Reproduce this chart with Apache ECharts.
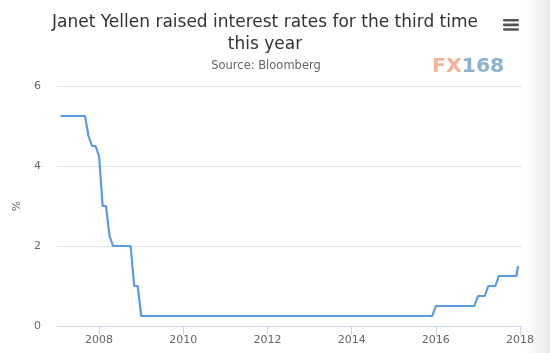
<!DOCTYPE html>
<html>
<head>
<meta charset="utf-8">
<script src="https://cdn.jsdelivr.net/npm/echarts@6/dist/echarts.min.js"></script>
<style>
  html, body { margin: 0; padding: 0; background: #fff; }
  #chart { width: 550px; height: 353px; }
</style>
</head>
<body>
<div id="chart"></div>
<script>
// fed funds target (upper bound), points where the line bends
var dates = [
    '2007-02-01', '2007-09-01', '2007-10-01', '2007-11-01', '2007-12-01',
    '2008-01-01', '2008-02-01', '2008-03-01', '2008-04-01', '2008-05-01',
    '2008-10-01', '2008-11-01', '2008-12-01', '2009-01-01', '2015-12-01',
    '2016-01-01', '2016-12-01', '2017-01-01', '2017-03-01', '2017-04-01',
    '2017-06-01', '2017-07-01', '2017-12-01', '2017-12-14'
];
var rates = [
    5.25, 5.25, 4.75, 4.5, 4.5,
    4.25, 3.0, 3.0, 2.25, 2.0,
    2.0, 1.0, 1.0, 0.25, 0.25,
    0.5, 0.5, 0.75, 0.75, 1.0,
    1.0, 1.25, 1.25, 1.5
];
var tickYears = [2008, 2010, 2012, 2014, 2016, 2018];
var yTicks = [0, 2, 4, 6];

var titleText = 'Janet Yellen raised interest rates for the third time\nthis year';
var subText = 'Source: Bloomberg';

(function () {
    var chart = echarts.init(document.getElementById('chart'), null, {renderer: 'canvas'});
    var font = '"DejaVu Sans", "Lucida Grande", sans-serif';

    function ts(s) { return Date.parse(s); }

    var yearStamps = tickYears.map(function (y) { return ts(y + '-01-01'); });
    var points = dates.map(function (d, i) { return [ts(d), rates[i]]; });

    var option = {
        animation: false,
        title: [{
            text: titleText,
            left: 265, top: 12, padding: 0,
            textAlign: 'center',
            textStyle: {color: '#333333', fontFamily: font, fontSize: 17, fontWeight: 'normal', lineHeight: 22}
        }, {
            text: subText,
            left: 266, top: 60, padding: 0,
            textAlign: 'center',
            textStyle: {color: '#666666', fontFamily: font, fontSize: 11.5, fontWeight: 'normal'}
        }],
        grid: {left: 57, right: 28, top: 86, bottom: 27, containLabel: false},
        xAxis: {
            type: 'value',
            min: ts('2007-01-01'),
            max: ts('2018-01-18'),
            axisLine: {show: true, onZero: false, lineStyle: {color: '#ccd6eb', width: 1}},
            axisTick: {show: true, length: 9, customValues: yearStamps, lineStyle: {color: '#ccd6eb'}},
            axisLabel: {
                customValues: yearStamps,
                color: '#666666', fontFamily: font, fontSize: 11, margin: 9,
                formatter: function (v) { return String(new Date(v).getUTCFullYear()); }
            },
            splitLine: {show: false}
        },
        yAxis: {
            type: 'value',
            min: yTicks[0], max: yTicks[yTicks.length - 1], interval: 2,
            name: '%',
            nameLocation: 'middle',
            nameRotate: 90,
            nameGap: 26,
            nameTextStyle: {color: '#666666', fontFamily: font, fontSize: 11},
            axisLine: {show: false},
            axisTick: {show: false},
            axisLabel: {color: '#666666', fontFamily: font, fontSize: 11, margin: 16},
            splitLine: {lineStyle: {color: '#e6e6e6', width: 1}}
        },
        series: [{
            type: 'line',
            data: points,
            showSymbol: false,
            lineStyle: {color: '#5a9be6', width: 2.2},
            itemStyle: {color: '#5a9be6'}
        }],
        graphic: [
            // grey strip on the right edge
            {
                type: 'rect', left: 526, top: 0, z: -1,
                shape: {width: 24, height: 353},
                style: {fill: new echarts.graphic.LinearGradient(0, 0, 1, 0, [
                    {offset: 0, color: '#ffffff'}, {offset: 1, color: '#e9e9e9'}
                ])}
            },
            // menu button
            {type: 'rect', left: 503, top: 19, shape: {width: 16, height: 2.6, r: 1}, style: {fill: '#555555'}},
            {type: 'rect', left: 503, top: 23.6, shape: {width: 16, height: 2.6, r: 1}, style: {fill: '#555555'}},
            {type: 'rect', left: 503, top: 28.2, shape: {width: 16, height: 2.6, r: 1}, style: {fill: '#555555'}},
            // logo
            {
                type: 'text', x: 432, y: 57.5, scaleX: 1.075,
                style: {
                    text: '{a|FX}{b|168}',
                    rich: {
                        a: {fill: '#f6b29a', fontFamily: font, fontSize: 19, fontWeight: 'bold'},
                        b: {fill: '#8db2ce', fontFamily: font, fontSize: 19, fontWeight: 'bold'}
                    }
                }
            }
        ]
    };

    chart.setOption(option);
})();
</script>
</body>
</html>
